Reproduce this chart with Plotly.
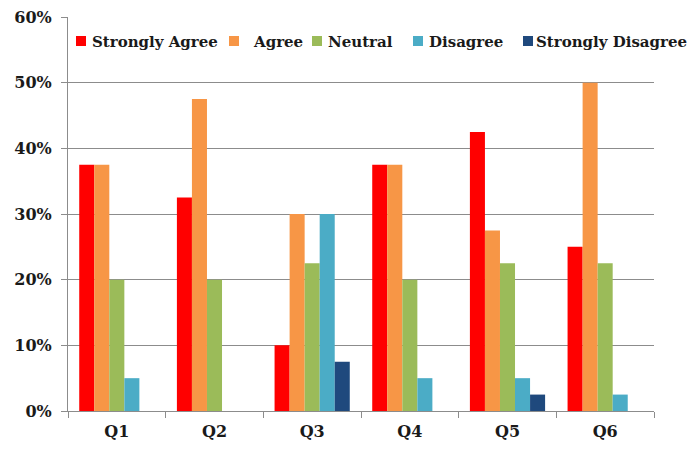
import plotly.graph_objects as go

categories = ["Q1", "Q2", "Q3", "Q4", "Q5", "Q6"]
series_names = ["Strongly Agree", "Agree", "Neutral", "Disagree", "Strongly Disagree"]
strongly_agree = [0.375, 0.325, 0.10, 0.375, 0.425, 0.25]
agree = [0.375, 0.475, 0.30, 0.375, 0.275, 0.50]
neutral = [0.20, 0.20, 0.225, 0.20, 0.225, 0.225]
disagree = [0.05, 0.0, 0.30, 0.05, 0.05, 0.025]
strongly_disagree = [0.0, 0.0, 0.075, 0.0, 0.025, 0.0]
colors = ["#FF0000", "#F79646", "#9BBB59", "#4BACC6", "#1F497D"]
y_ticks = [0, 0.1, 0.2, 0.3, 0.4, 0.5, 0.6]
y_tick_labels = ["0%", "10%", "20%", "30%", "40%", "50%", "60%"]

all_series = [strongly_agree, agree, neutral, disagree, strongly_disagree]

FONT = "DejaVu Serif"
GRID = "#8C8C8C"

fig = go.Figure()
for name, vals, col in zip(series_names, all_series, colors):
    fig.add_trace(go.Bar(x=categories, y=vals, name=name, marker=dict(color=col, line=dict(width=0)),
                         showlegend=False))

# manual legend (squares + text) to match the original spacing
legend_sq_x = [76, 229, 312, 413, 523]
legend_txt_x = [90, 251, 326, 427, 534]
W, H = 700, 449
L, R, T, B = 68, 46, 17, 38
shapes = []
annotations = []
for name, col, sx, tx in zip(series_names, colors, legend_sq_x, legend_txt_x):
    shapes.append(dict(type="rect", xref="paper", yref="paper",
                       x0=(sx - L) / (W - L - R), x1=(sx + 10 - L) / (W - L - R),
                       y0=(H - B - 46) / (H - T - B), y1=(H - B - 36) / (H - T - B),
                       fillcolor=col, line=dict(width=0)))
    annotations.append(dict(xref="paper", yref="paper", x=(tx - L) / (W - L - R),
                            y=(H - B - 41.5) / (H - T - B), xanchor="left", yanchor="middle",
                            text="<b>" + name + "</b>", showarrow=False,
                            font=dict(family=FONT, size=15, color="#1a1a1a")))

fig.update_layout(
    width=W, height=H,
    margin=dict(l=L, r=R, t=T, b=B),
    paper_bgcolor="white", plot_bgcolor="white",
    barmode="group", bargap=0.23, bargroupgap=0,
    shapes=shapes, annotations=annotations,
    xaxis=dict(showline=True, linecolor=GRID, linewidth=1, ticks="outside", tickson="boundaries",
               ticklen=6, tickcolor=GRID, showgrid=False, automargin=False,
               tickvals=categories, ticktext=["<b>" + c + "</b>" for c in categories],
               tickfont=dict(family=FONT, size=16, color="#1a1a1a"),
               ticklabelstandoff=6),
    yaxis=dict(range=[0, 0.6], tickvals=y_ticks, ticktext=["<b>" + t + "</b>" for t in y_tick_labels],
               showline=True, automargin=False,
               linecolor=GRID, linewidth=1, ticks="outside", ticklen=6, tickcolor=GRID,
               showgrid=True, gridcolor=GRID, gridwidth=1, zeroline=False,
               tickfont=dict(family=FONT, size=16, color="#1a1a1a"),
               ticklabelstandoff=6),
)

fig.write_html("out.html")
